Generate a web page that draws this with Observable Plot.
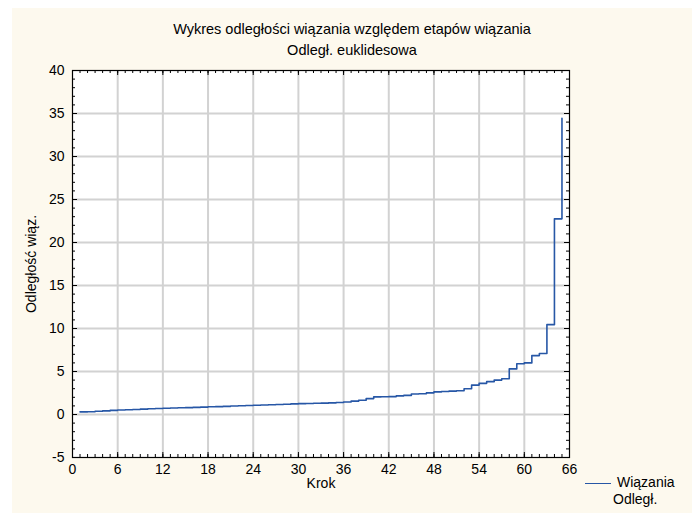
<!DOCTYPE html>
<html>
<head>
<meta charset="utf-8">
<script src="https://cdn.jsdelivr.net/npm/d3@7"></script>
<script src="https://cdn.jsdelivr.net/npm/@observablehq/plot@0.6"></script>
<style>
  html, body { margin: 0; padding: 0; background: #ffffff; }
  #page { position: relative; width: 692px; height: 513px; overflow: hidden;
          font-family: "Liberation Sans", Arial, sans-serif; color: #000; }
  #panel { position: absolute; left: 12px; top: 8px; right: 0; bottom: 0; background: #fdf9ee; }
  #chart { position: absolute; left: 0; top: 0; }
  .title { position: absolute; left: 12px; right: 0; text-align: center; font-size: 14.5px; white-space: nowrap; }
  #legend { position: absolute; left: 585px; top: 474px; font-size: 14px; }
  #legend .swatch { display: inline-block; width: 26px; height: 0; border-top: 1.8px solid #2757a6;
                    vertical-align: middle; margin-right: 6px; }
  #legend .second { padding-left: 28px; margin-top: 1px; }
</style>
</head>
<body>
<div id="page">
  <div id="panel"></div>
  <div id="chart"></div>
  <div class="title" style="top:21px">Wykres odległości wiązania względem etapów wiązania</div>
  <div class="title" style="top:42px">Odległ. euklidesowa</div>
  <div id="legend"><div><span class="swatch"></span>Wiązania</div><div class="second">Odległ.</div></div>
</div>
<script>
// Linkage step number and the joining distance at that step
const steps = d3.range(1, 66);
const distances = [
  0.30, 0.32, 0.38, 0.42, 0.48, 0.52, 0.55, 0.58, 0.62, 0.66,
  0.70, 0.73, 0.75, 0.78, 0.80, 0.83, 0.86, 0.90, 0.92, 0.95,
  0.98, 1.02, 1.05, 1.08, 1.10, 1.14, 1.17, 1.20, 1.23, 1.26,
  1.28, 1.30, 1.32, 1.35, 1.40, 1.45, 1.55, 1.65, 1.85, 2.05,
  2.06, 2.08, 2.17, 2.22, 2.38, 2.42, 2.52, 2.63, 2.68, 2.72,
  2.76, 3.00, 3.42, 3.62, 3.82, 4.00, 4.15, 5.30, 5.90, 6.00,
  6.85, 7.10, 10.45, 22.75, 34.45
];

// Axis tick values
const xTicks = [0, 6, 12, 18, 24, 30, 36, 42, 48, 54, 60, 66];
const yTicks = [-5, 0, 5, 10, 15, 20, 25, 30, 35, 40];
const xMinor = d3.range(0, 67, 1);
const yMinor = d3.range(-5, 41, 1);

const rows = steps.map((s, i) => ({step: s, distance: distances[i]}));

// Frame geometry
const W = 692, H = 513, ML = 72, MR = 123, MT = 70, MB = 56;
const FW = W - ML - MR, FH = H - MT - MB;

// Inward-pointing tick marks on all four sides of the frame
const innerTicks = (len) => [
  Plot.tickX(len === 3 ? xMinor : xTicks, {x: d => d, insetTop: FH - len, stroke: "#000"}),
  Plot.tickX(len === 3 ? xMinor : xTicks, {x: d => d, insetBottom: FH - len, stroke: "#000"}),
  Plot.tickY(len === 3 ? yMinor : yTicks, {y: d => d, insetRight: FW - len, stroke: "#000"}),
  Plot.tickY(len === 3 ? yMinor : yTicks, {y: d => d, insetLeft: FW - len, stroke: "#000"})
];

const chart = Plot.plot({
  width: W,
  height: H,
  marginLeft: ML,
  marginRight: MR,
  marginTop: MT,
  marginBottom: MB,
  style: {background: "transparent", fontFamily: "Liberation Sans, Arial, sans-serif", fontSize: "14px", color: "#000"},
  x: {domain: [0, 66], axis: null},
  y: {domain: [-5, 40], axis: null},
  marks: [
    Plot.frame({fill: "#ffffff", stroke: null}),
    Plot.gridX(xTicks.filter(d => d > 0 && d < 66), {stroke: "#d2d2d2", strokeOpacity: 1, strokeWidth: 2}),
    Plot.gridY(yTicks.filter(d => d > -5 && d < 40), {stroke: "#d2d2d2", strokeOpacity: 1, strokeWidth: 2}),
    Plot.line(rows, {x: "step", y: "distance", curve: "step-after", stroke: "#2757a6", strokeWidth: 1.6}),
    ...innerTicks(3),
    ...innerTicks(5),
    Plot.frame({stroke: "#000", strokeWidth: 1.2}),
    Plot.axisX(xTicks, {anchor: "bottom", tickSize: 0, tickPadding: 7, tickFormat: d => String(d),
      label: "Krok", labelAnchor: "center", labelArrow: "none", labelOffset: 30, fontSize: 14}),
    Plot.axisY(yTicks, {anchor: "left", tickSize: 0, tickPadding: 8, tickFormat: d => String(d),
      label: "Odległość wiąz.", labelAnchor: "center", labelArrow: "none", labelOffset: 46, fontSize: 14})
  ]
});
document.getElementById("chart").appendChild(chart);
</script>
</body>
</html>
